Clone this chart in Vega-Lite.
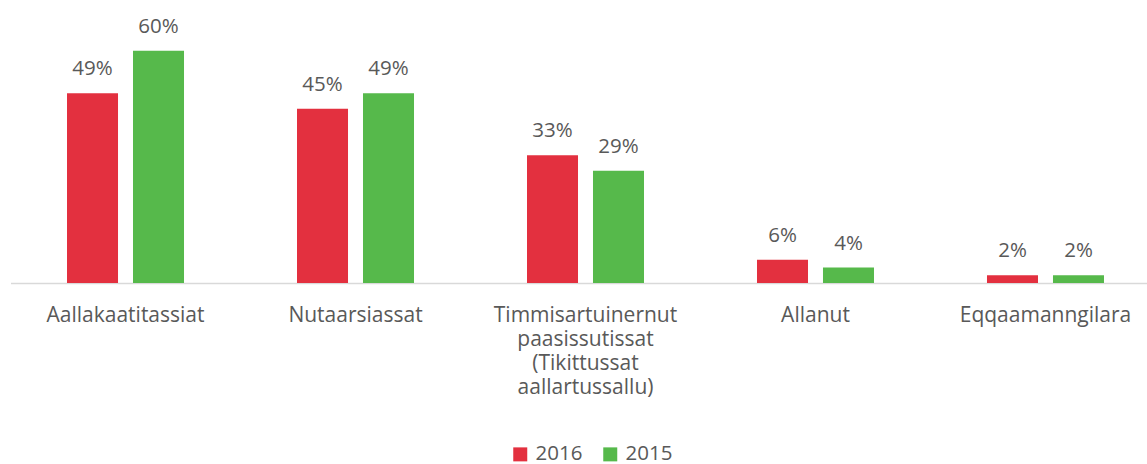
{
  "$schema": "https://vega.github.io/schema/vega-lite/v6.json",
  "autosize": "none",
  "width": 1136.5,
  "height": 271,
  "padding": {"left": 10.5, "top": 12, "right": 0, "bottom": 181},
  "background": "white",
  "config": {
    "view": {"stroke": null},
    "font": "Open Sans",
    "text": {"font": "Open Sans"}
  },
  "data": {
    "values": [
      {"category": "Aallakaatitassiat", "year": "2016", "value": 0.49},
      {"category": "Aallakaatitassiat", "year": "2015", "value": 0.60},
      {"category": "Nutaarsiassat", "year": "2016", "value": 0.45},
      {"category": "Nutaarsiassat", "year": "2015", "value": 0.49},
      {"category": "Timmisartuinernut paasissutissat (Tikittussat aallartussallu)", "year": "2016", "value": 0.33},
      {"category": "Timmisartuinernut paasissutissat (Tikittussat aallartussallu)", "year": "2015", "value": 0.29},
      {"category": "Allanut", "year": "2016", "value": 0.06},
      {"category": "Allanut", "year": "2015", "value": 0.04},
      {"category": "Eqqaamanngilara", "year": "2016", "value": 0.02},
      {"category": "Eqqaamanngilara", "year": "2015", "value": 0.02}
    ]
  },
  "encoding": {
    "x": {
      "field": "category",
      "type": "nominal",
      "sort": null,
      "scale": {"paddingInner": 0.4913, "paddingOuter": 0.2457, "range": [0, 1150]},
      "axis": {
        "title": null,
        "labelAngle": 0,
        "ticks": false,
        "domainColor": "#D9D9D9",
        "domainWidth": 1.5,
        "labelColor": "#595959",
        "labelFont": "Open Sans",
        "labelFontSize": 21,
        "labelPadding": 21,
        "labelLineHeight": 24,
        "labelLimit": 0,
        "labelBaseline": "top",
        "labelExpr": "datum.value == 'Timmisartuinernut paasissutissat (Tikittussat aallartussallu)' ? ['Timmisartuinernut', 'paasissutissat', '(Tikittussat', 'aallartussallu)'] : datum.label"
      }
    },
    "xOffset": {
      "field": "year",
      "type": "nominal",
      "sort": ["2016", "2015"],
      "scale": {"paddingInner": 0.227, "paddingOuter": 0}
    },
    "y": {
      "field": "value",
      "type": "quantitative",
      "scale": {"domain": [0, 0.7]},
      "axis": null
    }
  },
  "layer": [
    {
      "mark": {"type": "bar"},
      "encoding": {
        "color": {
          "field": "year",
          "type": "nominal",
          "sort": ["2016", "2015"],
          "scale": {"domain": ["2016", "2015"], "range": ["#E3303F", "#56B94B"]},
          "legend": {
            "title": null,
            "orient": "none",
            "legendX": 499.5,
            "legendY": 432,
            "direction": "horizontal",
            "symbolType": "square",
            "symbolSize": 196,
            "symbolStrokeWidth": 0,
            "labelFontSize": 20.5,
            "labelColor": "#595959",
            "labelFont": "Open Sans",
            "labelOffset": 5,
            "columnPadding": 17
          }
        }
      }
    },
    {
      "mark": {"type": "text", "baseline": "alphabetic", "dy": -18, "fontSize": 20.5, "color": "#595959", "font": "Open Sans"},
      "encoding": {
        "text": {"field": "value", "type": "quantitative", "format": ".0%"},
        "detail": {"field": "year"}
      }
    }
  ]
}
